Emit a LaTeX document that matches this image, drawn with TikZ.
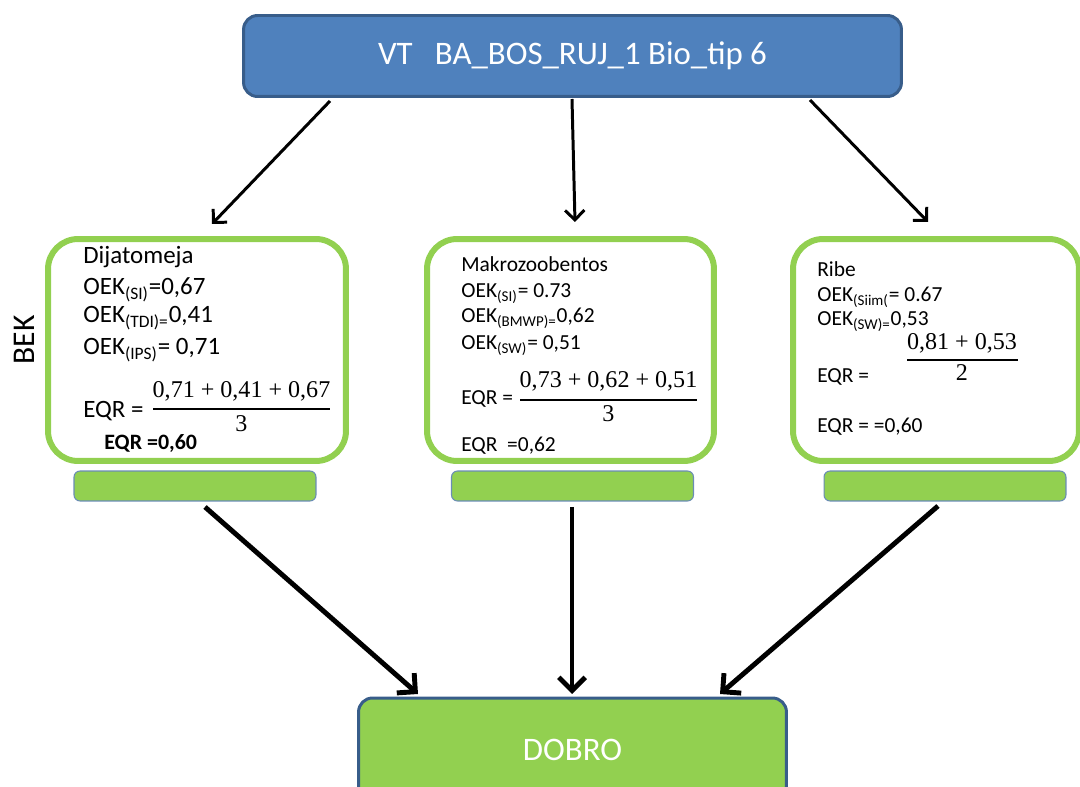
\documentclass[tikz,border=0pt]{standalone}
\usepackage{fontspec}
\setmainfont{Carlito}
\newfontfamily\numfont{Liberation Serif}
\usetikzlibrary{arrows.meta}
\definecolor{topfill}{HTML}{4F81BD}
\definecolor{topline}{HTML}{385D8A}
\definecolor{grn}{HTML}{92D050}
\definecolor{barline}{HTML}{6A8CB5}
\newcommand{\sbx}[1]{\textsubscript{#1}}
\begin{document}
\begin{tikzpicture}[x=0.02cm,y=-0.02cm,
  topbox/.style={draw=topline,line width=1.7pt,fill=topfill,rounded corners=0.28cm,inner sep=0,text=white,font=\fontsize{18.7}{22}\selectfont},
  grpbox/.style={draw=grn,line width=3.4pt,fill=white,rounded corners=0.6cm,inner sep=0,minimum height=4.44cm},
  barbox/.style={draw=barline,line width=0.6pt,fill=grn,rounded corners=0.12cm,inner sep=0,minimum width=4.84cm,minimum height=0.6cm},
  arrA/.style={line width=1.7pt,-{Straight Barb[length=5.5pt,width=11pt]}},
  arrB/.style={line width=2.8pt,-{Straight Barb[length=7.5pt,width=15pt]}},
  txtL/.style={anchor=base west,inner sep=0,font=\fontsize{14.2}{17}\selectfont},
  txtM/.style={anchor=base west,inner sep=0,font=\fontsize{12.2}{15}\selectfont},
  frac/.style={anchor=base,inner sep=0,font=\numfont\fontsize{13.7}{16}\selectfont},
  fracbar/.style={line width=0.8pt}]
\useasboundingbox (0,0) rectangle (1080,787);
\clip (0,0) rectangle (1080,787);

% main boxes
\node[topbox,minimum width=13.16cm,minimum height=1.62cm] (top) at (572.5,56) {VT\ \ \ BA\_BOS\_RUJ\_1 Bio\_tip 6};
\node[grpbox,minimum width=5.96cm] (dij) at (197,350) {};
\node[grpbox,minimum width=5.74cm] (mak) at (570.5,350) {};
\node[grpbox,minimum width=5.72cm] (rib) at (936,350) {};
\node[barbox] (bar1) at (195,486) {};
\node[barbox] (bar2) at (572.5,486) {};
\node[barbox] (bar3) at (945,486) {};
\node[topbox,fill=grn,minimum width=8.56cm,minimum height=2.08cm] (dobro) at (572.5,750) {DOBRO};

\node[rotate=90,inner sep=0,font=\fontsize{18}{22}\selectfont] (bek) at (24,340) {BEK};

% arrow end points
\coordinate (t1) at (330,101); \coordinate (h1) at (212,224);
\coordinate (t2) at (572,99);  \coordinate (h2) at (575,222);
\coordinate (t3) at (810,100); \coordinate (h3) at (928,222);
\coordinate (b1) at (205,507); \coordinate (d1) at (418,694);
\coordinate (b2) at (572,507); \coordinate (d2) at (572,694);
\coordinate (b3) at (938,506); \coordinate (d3) at (720,694);
\draw[arrA] (t1) -- (h1);
\draw[arrA] (t2) -- (h2);
\draw[arrA] (t3) -- (h3);
\draw[arrB] (b1) -- (d1);
\draw[arrB] (b2) -- (d2);
\draw[arrB] (b3) -- (d3);

% left box text
\node[txtL] (l0) at (83,264) {Dijatomeja};
\node[txtL] (l1) at (83,295) {OEK\sbx{(SI)}=0,67};
\node[txtL] (l2) at (83,323) {OEK\sbx{(TDI)=}0,41};
\node[txtL] (l3) at (83,355) {OEK\sbx{(IPS)}= 0,71};
\node[txtL] (l4) at (83,418) {EQR =};
\node[frac] (l5) at (241.5,398) {0,71 + 0,41 + 0,67};
\draw[fracbar] (153,409) -- (330,409);
\node[frac] (l6) at (241.5,432) {3};
\node[txtL,font=\bfseries\fontsize{12.5}{15}\selectfont] (l7) at (104,450) {EQR =0,60};

% middle box text
\node[txtM] (m0) at (461,272) {Makrozoobentos};
\node[txtM] (m1) at (461,298) {OEK\sbx{(SI)}= 0.73};
\node[txtM] (m2) at (461,323) {OEK\sbx{(BMWP)=}0,62};
\node[txtM] (m3) at (461,350) {OEK\sbx{(SW)}= 0,51};
\node[txtM] (m4) at (461,405) {EQR =};
\node[frac] (m5) at (608.5,388) {0,73 + 0,62 + 0,51};
\draw[fracbar] (520,400) -- (697,400);
\node[frac] (m6) at (608.5,422) {3};
\node[txtM] (m7) at (461,452) {EQR\ \ =0,62};

% right box text
\node[txtM] (r0) at (817,277) {Ribe};
\node[txtM] (r1) at (817,302) {OEK\sbx{(Siim(}= 0.67};
\node[txtM] (r2) at (817,326) {OEK\sbx{(SW)=}0,53};
\node[frac] (r3) at (962,350) {0,81 + 0,53};
\draw[fracbar] (907,360) -- (1018,360);
\node[frac] (r4) at (962,381) {2};
\node[txtM] (r5) at (817,383) {EQR =};
\node[txtM] (r6) at (817,433) {EQR = =0,60};
\end{tikzpicture}
\end{document}
